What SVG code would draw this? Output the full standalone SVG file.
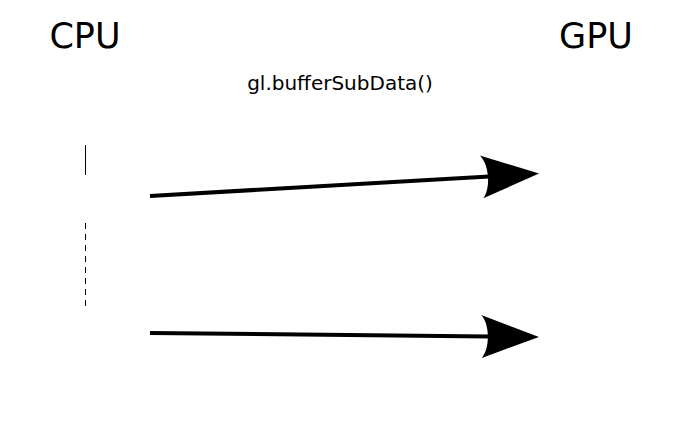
<svg xmlns="http://www.w3.org/2000/svg" width="689" height="434" viewBox="0 0 689 434">
  <style>
    .title { font-family: "DejaVu Sans", "Liberation Sans", sans-serif; font-size: 35px; fill: #000; text-anchor: middle; }
    .label { font-family: "DejaVu Sans", "Liberation Sans", sans-serif; font-size: 20px; fill: #000; text-anchor: middle; }
    .arrow { stroke: #000; stroke-width: 4; fill: none; marker-end: url(#head); }
    .tick { stroke: #000; stroke-width: 1; fill: none; }
  </style>
  <defs>
    <marker id="head" markerUnits="userSpaceOnUse" markerWidth="70" markerHeight="50" viewBox="-60 -25 64 50" refX="-50" refY="0" orient="auto" overflow="visible">
      <path d="M0,0 L-58,-21.5 C-49,-12 -49,12 -57,21.5 Z" fill="#000"/>
    </marker>
  </defs>
  <rect width="689" height="434" fill="#fff"/>
  <g id="cpu">
    <text class="title" x="85" y="48">CPU</text>
    <line class="tick" x1="85.5" y1="145" x2="85.5" y2="175"/>
    <line class="tick" x1="85.5" y1="223" x2="85.5" y2="308" stroke-dasharray="6 5"/>
  </g>
  <g id="gpu">
    <text class="title" x="596" y="48">GPU</text>
  </g>
  <g id="call">
    <text class="label" x="340" y="90">gl.bufferSubData()</text>
  </g>
  <g id="connectors">
    <line class="arrow" x1="150" y1="196" x2="489.1" y2="176.4"/>
    <line class="arrow" x1="150" y1="333" x2="489" y2="336.5"/>
  </g>
</svg>
